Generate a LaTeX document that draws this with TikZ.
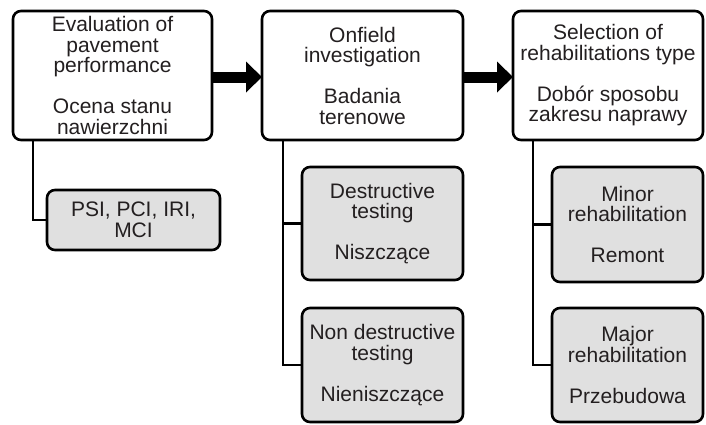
\documentclass[tikz,border=0pt]{standalone}
\usepackage{fontspec}
\setmainfont{Liberation Sans}
\usetikzlibrary{arrows.meta}
\definecolor{txt}{HTML}{231F20}
\definecolor{boxgray}{HTML}{E0E0E0}
\tikzset{
  basebox/.style={draw=black, line width=2.6pt, rounded corners=8pt, inner sep=0pt, outer sep=0pt,
    align=center, text=txt, font=\fontsize{21}{20.5}\selectfont},
  mainbox/.style={basebox, fill=white},
  subbox/.style={basebox, fill=boxgray},
  link/.style={draw=black, line width=2.6pt},
  blockarrow/.style={draw=black, line width=11pt, -{Triangle[length=16pt,width=30pt]}}
}
\begin{document}
\begin{tikzpicture}[x=1pt,y=-1pt]
\useasboundingbox (0,0) rectangle (706,424);
% main boxes
\node[mainbox, minimum width=199pt, minimum height=129pt] (b1) at (112.5,75.5)
  {Evaluation of\\pavement\\performance\\[20.5pt]Ocena stanu\\nawierzchni};
\node[mainbox, minimum width=201pt, minimum height=129pt] (b2) at (362.5,75.5)
  {Onfield\\investigation\\[20.5pt]Badania\\terenowe};
\node[mainbox, minimum width=190pt, minimum height=129pt] (b3) at (608,75.5)
  {Selection of\\rehabilitations type\\[20.5pt]Dobór sposobu\\zakresu naprawy};
% sub boxes
\node[subbox, minimum width=173pt, minimum height=60pt] (s1) at (133.5,220)
  {PSI, PCI, IRI,\\MCI};
\node[subbox, minimum width=161pt, minimum height=113pt] (s2a) at (382.5,223.5)
  {Destructive\\testing\\[20.5pt]Niszczące};
\node[subbox, minimum width=161pt, minimum height=114pt] (s2b) at (382.5,365)
  {Non destructive\\testing\\[20.5pt]Nieniszczące};
\node[subbox, minimum width=151pt, minimum height=115pt] (s3a) at (627.5,224.5)
  {Minor\\rehabilitation\\[20.5pt]Remont};
\node[subbox, minimum width=151pt, minimum height=114pt] (s3b) at (627.5,365)
  {Major\\rehabilitation\\[20.5pt]Przebudowa};
% connectors
\draw[link] (b1.south -| 33,0) |- (s1.west);
\draw[link] (b2.south -| 283,0) |- (s2b.west);
\draw[link] (283,0 |- s2a.west) -- (s2a.west);
\draw[link] (b3.south -| 533,0) |- (s3b.west);
\draw[link] (533,0 |- s3a.west) -- (s3a.west);
% block arrows
\draw[blockarrow] (b1.east) ++(0,1.5) coordinate (a1s) -- (b2.west |- a1s);
\draw[blockarrow] (b2.east) ++(0,1.5) coordinate (a2s) -- (b3.west |- a2s);
\end{tikzpicture}
\end{document}
